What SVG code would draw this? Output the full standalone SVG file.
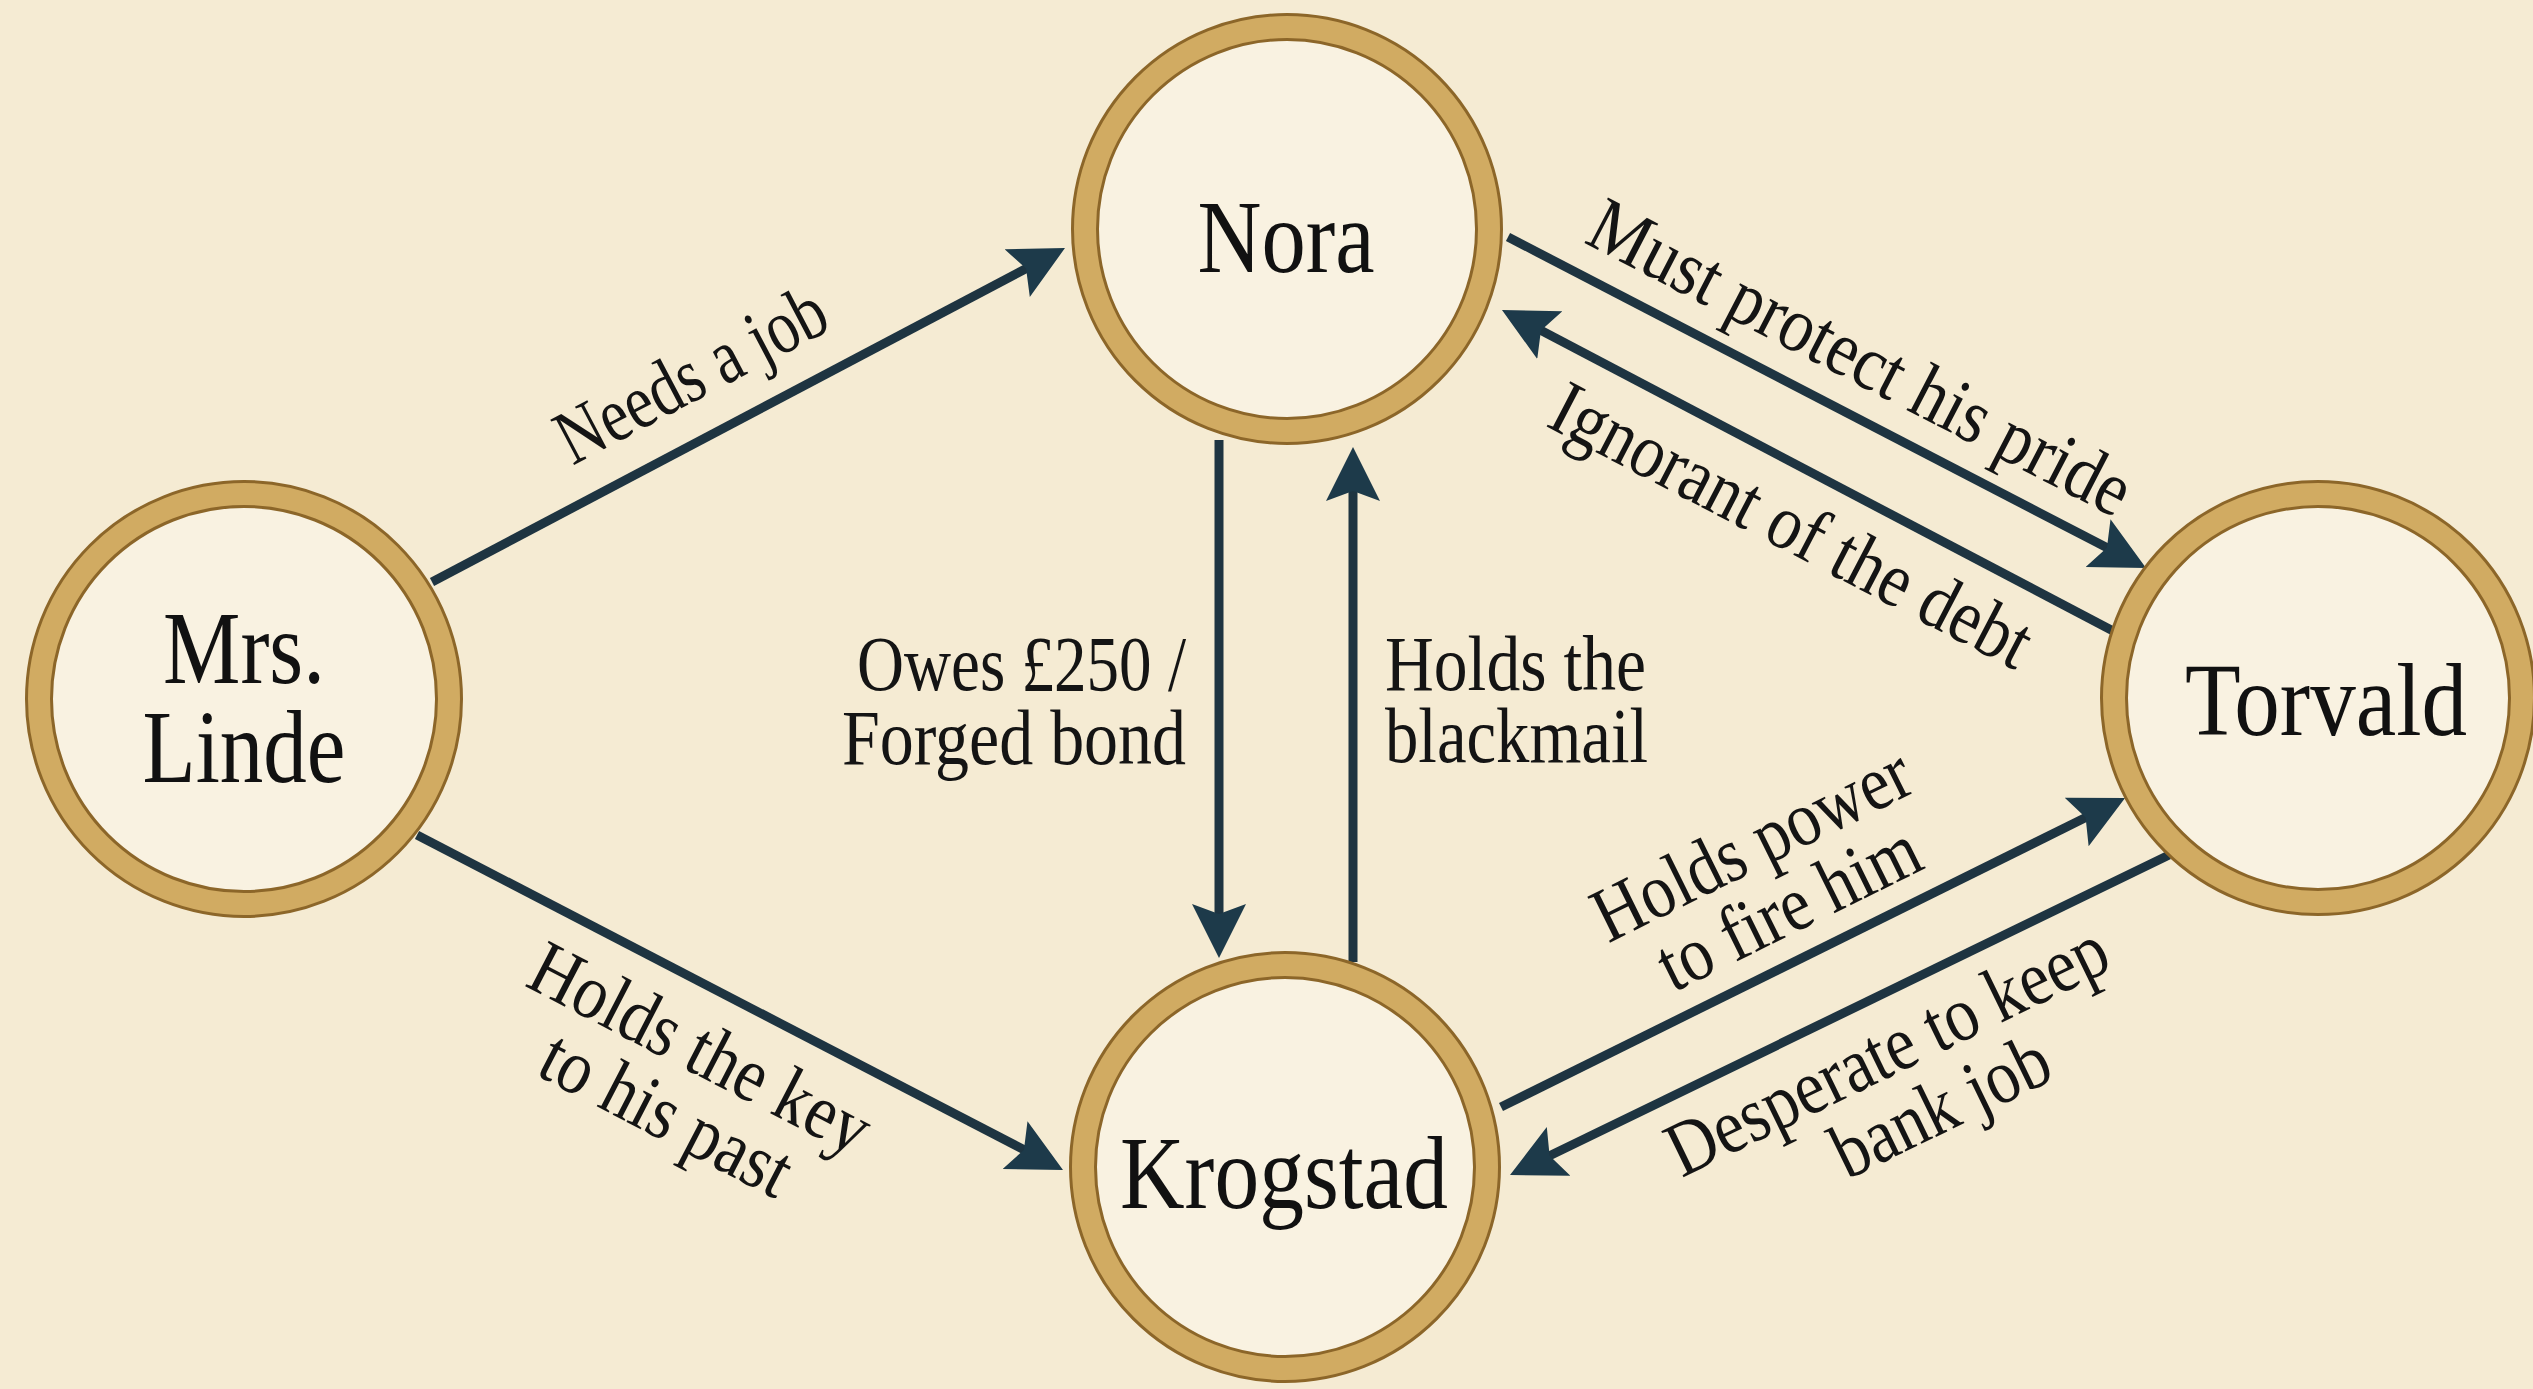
<svg xmlns="http://www.w3.org/2000/svg" width="2533" height="1389" viewBox="0 0 2533 1389">
  <style>
    .bg { fill: #f5ebd3; }
    .ring-out { fill: #f9f2e1; stroke: #8c6629; stroke-width: 28; }
    .ring-in { fill: none; stroke: #d1ab62; stroke-width: 22; }
    .nlabel { font-family: "Liberation Serif", "DejaVu Serif", serif; font-size: 104px; fill: #111111; text-anchor: middle; }
    .elabel { font-family: "Liberation Serif", "DejaVu Serif", serif; font-size: 78px; fill: #141414; }
    .edge { stroke: #1e3441; stroke-width: 9; fill: none; marker-end: url(#ah); }
  </style>
  <defs>
    <marker id="ah" markerUnits="userSpaceOnUse" viewBox="0 -28 56 56" refX="14" refY="0" markerWidth="56" markerHeight="56" orient="auto">
      <path d="M0,-27 L54,0 L0,27 L10,0 Z" fill="#1d3a4a"/>
    </marker>
  </defs>
  <rect class="bg" x="0" y="0" width="2533" height="1389"/>

  <g id="connectors">
    <line class="edge" x1="432" y1="582" x2="1029.6" y2="266.7"/>
    <line class="edge" x1="417" y1="835" x2="1027.5" y2="1151.6"/>
    <line class="edge" x1="1219" y1="440" x2="1219" y2="918"/>
    <line class="edge" x1="1353" y1="962" x2="1353" y2="487"/>
    <line class="edge" x1="1508" y1="237" x2="2110.5" y2="549.6"/>
    <line class="edge" x1="2115" y1="632" x2="1537.4" y2="328.6"/>
    <line class="edge" x1="1501" y1="1107" x2="2089.2" y2="815.8"/>
    <line class="edge" x1="2169" y1="855" x2="1546" y2="1157.5"/>

    <g id="edge-labels">
      <text class="elabel" text-anchor="middle" transform="translate(703,397) rotate(-27.8)" textLength="295" lengthAdjust="spacingAndGlyphs">Needs a job</text>
      <text class="elabel" text-anchor="middle" transform="translate(689,1071) rotate(27.4)"><tspan x="0" y="0" textLength="373" lengthAdjust="spacingAndGlyphs">Holds the key</tspan><tspan x="0" y="74" textLength="272" lengthAdjust="spacingAndGlyphs">to his past</tspan></text>
      <text class="elabel" text-anchor="end"><tspan x="1186" y="690" textLength="329" lengthAdjust="spacingAndGlyphs">Owes £250 /</tspan><tspan x="1186" y="764" textLength="344" lengthAdjust="spacingAndGlyphs">Forged bond</tspan></text>
      <text class="elabel"><tspan x="1385" y="690" textLength="261" lengthAdjust="spacingAndGlyphs">Holds the</tspan><tspan x="1385" y="762" textLength="263" lengthAdjust="spacingAndGlyphs">blackmail</tspan></text>
      <text class="elabel" text-anchor="middle" transform="translate(1849,380) rotate(27.4)" textLength="600" lengthAdjust="spacingAndGlyphs">Must protect his pride</text>
      <text class="elabel" text-anchor="middle" transform="translate(1780,548) rotate(27.5)" textLength="531" lengthAdjust="spacingAndGlyphs">Ignorant of the debt</text>
      <text class="elabel" text-anchor="middle" transform="translate(1763,867) rotate(-26.3)"><tspan x="0" y="0" textLength="345" lengthAdjust="spacingAndGlyphs">Holds power</tspan><tspan x="5" y="73" textLength="283" lengthAdjust="spacingAndGlyphs">to fire him</tspan></text>
      <text class="elabel" text-anchor="middle" transform="translate(1898,1073) rotate(-25.9)"><tspan x="0" y="0" textLength="481" lengthAdjust="spacingAndGlyphs">Desperate to keep</tspan><tspan x="24" y="74" textLength="233" lengthAdjust="spacingAndGlyphs">bank job</tspan></text>
    </g>
  </g>

  <g id="node-nora">
    <circle class="ring-out" cx="1287" cy="229" r="202"/>
    <circle class="ring-in" cx="1287" cy="229" r="202"/>
    <text class="nlabel" x="1286" y="272" textLength="177" lengthAdjust="spacingAndGlyphs">Nora</text>
  </g>
  <g id="node-linde">
    <circle class="ring-out" cx="244" cy="699" r="205"/>
    <circle class="ring-in" cx="244" cy="699" r="205"/>
    <text class="nlabel"><tspan x="244" y="683" textLength="162" lengthAdjust="spacingAndGlyphs">Mrs.</tspan><tspan x="244" y="782" textLength="203" lengthAdjust="spacingAndGlyphs">Linde</tspan></text>
  </g>
  <g id="node-torvald">
    <circle class="ring-out" cx="2318" cy="698" r="204"/>
    <circle class="ring-in" cx="2318" cy="698" r="204"/>
    <text class="nlabel" x="2326" y="735" textLength="282" lengthAdjust="spacingAndGlyphs">Torvald</text>
  </g>
  <g id="node-krogstad">
    <circle class="ring-out" cx="1285" cy="1167" r="202"/>
    <circle class="ring-in" cx="1285" cy="1167" r="202"/>
    <text class="nlabel" x="1284" y="1208" textLength="328" lengthAdjust="spacingAndGlyphs">Krogstad</text>
  </g>
</svg>
